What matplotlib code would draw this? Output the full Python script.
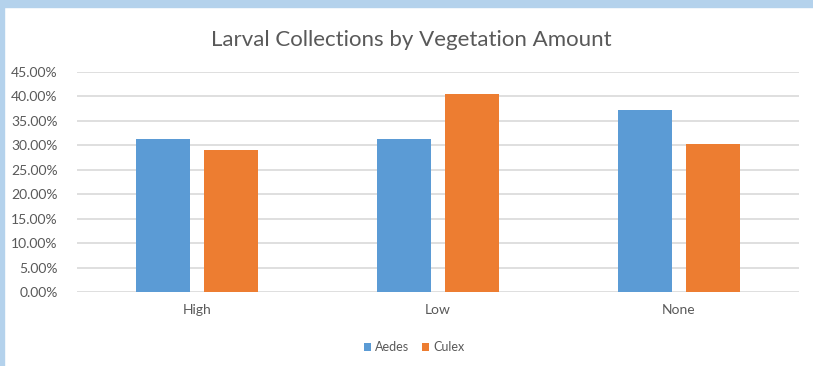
import numpy as np
import matplotlib
matplotlib.use("Agg")
from matplotlib import pyplot as plt
from matplotlib.ticker import FuncFormatter
from matplotlib.patches import Rectangle

# data (percent)
categories = ["High", "Low", "None"]
aedes = [31.2, 31.2, 37.3]
culex = [29.1, 40.4, 30.3]
yticks = [0, 5, 10, 15, 20, 25, 30, 35, 40, 45]

blue = "#5b9bd5"
orange = "#ed7d31"
text_col = "#595959"

plt.rcParams["font.family"] = ["Lato", "DejaVu Sans"]

fig = plt.figure(figsize=(8.13, 3.66), dpi=100)
# screenshot frame (light blue strip on top and left)
fig.patches.append(Rectangle((0, 1 - 7 / 366), 1, 7 / 366, transform=fig.transFigure,
                             color="#b4d2ec", zorder=0))
fig.patches.append(Rectangle((0, 0), 3.5 / 813, 1, transform=fig.transFigure,
                             color="#b4d2ec", zorder=0))

ax = fig.add_axes([77 / 813, (366 - 292) / 366, 722 / 813, 220 / 366])
x = np.arange(len(categories))
w = 0.224
off = 0.141
ax.bar(x - off, aedes, w, color=blue, label="Aedes", zorder=3)
ax.bar(x + off, culex, w, color=orange, label="Culex", zorder=3)

ax.set_xlim(-0.5, 2.5)
ax.set_ylim(0, 45)
ax.set_yticks(yticks)
ax.yaxis.set_major_formatter(FuncFormatter(lambda v, p: "%.2f%%" % v))
ax.grid(axis="y", color="#d9d9d9", linewidth=1.2, zorder=0)
for s in ax.spines.values():
    s.set_visible(False)
ax.tick_params(axis="y", length=0, pad=14, labelsize=10, labelcolor=text_col)
ax.set_xticks(x)
ax.set_xticklabels(categories)
ax.tick_params(axis="x", length=0, pad=9, labelsize=10, labelcolor=text_col)

fig.text(411 / 813, 1 - 40 / 366, "Larval Collections by Vegetation Amount",
         ha="center", va="center", fontsize=16, color=text_col)

leg = fig.legend(loc="center", bbox_to_anchor=(414 / 813, 1 - 347 / 366), ncol=2,
                 frameon=False, fontsize=9, handlelength=0.6, handleheight=0.6,
                 handletextpad=0.3, columnspacing=1.0)
for t in leg.get_texts():
    t.set_color(text_col)

fig.savefig("out.png", dpi=100)
